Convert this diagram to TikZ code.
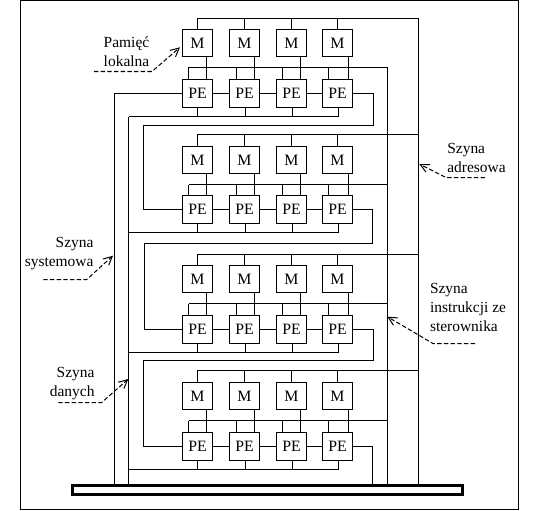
\documentclass[tikz,border=0pt]{standalone}
\usepackage{fontspec}
\setmainfont{Liberation Serif}
\usetikzlibrary{arrows.meta,calc,positioning}
\tikzset{
  box/.style={draw, fill=white, inner sep=0pt, outer sep=0pt, align=center,
        font=\fontsize{9}{11}\selectfont, minimum width=0.6cm, minimum height=0.56cm},
  base/.style={draw, line width=1.7pt, inner sep=0pt, outer sep=0pt,
        minimum width=7.8cm, minimum height=0.18cm},
  lab/.style={inner sep=0pt, align=left, font=\fontsize{8.8}{10.8}\selectfont},
  lead/.style={dash pattern=on 2.5pt off 1.3pt, -{Straight Barb[length=1.7mm,width=1.7mm]}},
}

\begin{document}
\begin{tikzpicture}[x=0.02cm,y=-0.02cm,line width=0.57pt]
  \useasboundingbox (0,0) rectangle (543,510);
  \draw (20.5,0.5) rectangle (518.5,509.5);
  % --- base plate and bus ends ---
  \node[base] (plate) at (267.5,489.5) {};
  \coordinate (sysb) at (114.5,484);
  \coordinate (datb) at (128.5,484);
  \coordinate (insb) at (387.5,484);
  \coordinate (adrb) at (418.5,484);
  % --- rows of M / PE ---
  \foreach \row/\ym/\yp/\yt/\yb/\yd in {1/43/93.5/18.5/67.5/116.5,2/160/209.5/134.5/184.5/232.5,
      3/279/329.5/254.5/303.5/352.5,4/396/446.5/370.5/420.5/469.5}{
    \coordinate (adr\row) at (418.5,\yt);
    \coordinate (ins\row) at (387.5,\yb);
    \coordinate (dat\row) at (128.5,\yd);
    \foreach \col/\x/\ms/\is/\ds in {1/197.5/1.8/1.8/0,2/244.5/2/1.6/0.2,3/291.5/1.8/1.8/0.2,4/337.5/2.2/1.8/0.2}{
      \node[box, minimum height=0.54cm] (m\row\col) at (\x,\ym) {M};
      \node[box] (p\row\col) at (\x,\yp) {PE};
      \draw (m\row\col.north) -- (m\row\col.north|-adr\row);
      \draw ([xshift=\ms mm]m\row\col.south) -- ([xshift=\ms mm]p\row\col.north);
      \draw ([xshift=-\is mm]p\row\col.north) -- ([xshift=-\is mm]p\row\col.north|-ins\row);
      \draw ([xshift=\ds mm]p\row\col.south) -- ([xshift=\ds mm]p\row\col.south|-dat\row);
    }
    \foreach \col/\nxt in {1/2,2/3,3/4} \draw (p\row\col.east) -- (p\row\nxt.west);
    % row buses
    \draw (m\row1.north) |- (adr\row);
    \draw ([xshift=-1.8mm]p\row1.north|-ins\row) -- (ins\row);
    \draw (dat\row) -- ([xshift=0.2mm]dat\row-|p\row4.south);
  }
  % --- vertical buses ---
  \draw (adr1) -- (adrb);
  \draw (ins1) -- (insb);
  \draw (dat1) -- (datb);
  \draw (p11.west) -| (sysb);
  % --- links between rows ---
  \coordinate (wire1) at (143.5,125.5);
  \coordinate (wire2) at (144.5,243.5);
  \coordinate (wire3) at (143.5,360.5);
  \draw (p14.east) -- ++(21,0) |- (wire1) |- (p21.west);
  \draw (p24.east) -- ++(20,0) |- (wire2) |- (p31.west);
  \draw (p34.east) -- ++(21,0) |- (wire3) |- (p41.west);
  \draw (p44.east) -- ++(20,0) |- (372.5,484);
  % --- labels ---
  \node[lab, align=center] (lmem) at (126.5,51.5) {Pamięć\\lokalna};
  \node[lab] (ladr) at (476.5,157.5) {Szyna\\adresowa};
  \node[lab] (lins) at (468,307) {Szyna\\instrukcji ze\\sterownika};
  \node[lab, align=right, anchor=east] (lsys) at (94,254) {Szyna\\systemowa};
  \node[lab, align=right, anchor=east] (ldat) at (95,384) {Szyna\\danych};
  % leaders
  \coordinate (tmem) at (180,47.3);
  \coordinate (tadr) at (419.3,164);
  \coordinate (tins) at (387.3,316.7);
  \coordinate (tsys) at (113,255.7);
  \coordinate (tdat) at (128.3,379);
  \draw[lead] (94,71.5) -- (152,71.5) -- (tmem);
  \draw[lead] (485,177.5) -- (446,177.5) -- (tadr);
  \draw[lead] (475,343.5) -- (433,343.5) -- (tins);
  \draw[lead] (43.3,279.5) -- (86.7,279.5) -- (tsys);
  \draw[lead] (58.3,402.5) -- (101.7,402.5) -- (tdat);
\end{tikzpicture}
\end{document}
